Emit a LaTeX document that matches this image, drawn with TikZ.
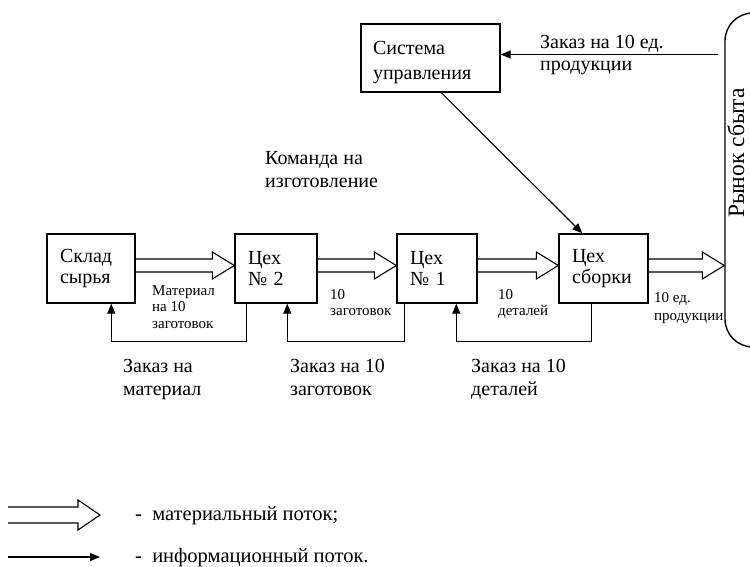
\documentclass[tikz,border=0pt]{standalone}
\usepackage{fontspec}
\setmainfont{Liberation Serif}
\usetikzlibrary{calc,arrows.meta}
\tikzset{
  box/.style={draw,line width=1.4pt,inner xsep=13pt,inner ysep=0pt,align=left,
    font=\fontsize{20}{21}\selectfont},
  info/.style={line width=1.2pt,-{Triangle[length=10pt,width=8pt]}},
  mat/.style={line width=1.1pt,line join=miter},
  lbl/.style={anchor=north west,inner sep=0pt,align=left,font=\fontsize{20}{23}\selectfont},
  small/.style={anchor=north west,inner sep=0pt,align=left,font=\fontsize{15}{16.5}\selectfont}
}
\newcommand\matflow[4]{% start, end, half shaft, half head
  \draw[mat] ($(#1)+(0,-#3)$) -- ($(#2)+(-22,-#3)$) -- ($(#2)+(-22,-#4)$) -- (#2)
    -- ($(#2)+(-22,#4)$) -- ($(#2)+(-22,#3)$) -- ($(#1)+(0,#3)$);}
\begin{document}
\begin{tikzpicture}[x=1pt,y=-1pt]
\useasboundingbox (0,0) rectangle (750,566);
% boxes
\node[box,text width=62pt,minimum height=69pt] (sklad) at (91,268.5) {Склад\\сырья};
\node[box,text width=56pt,minimum height=69pt] (ceh2) at (276,268.5) {Цех\\№ 2};
\node[box,text width=54pt,minimum height=69pt] (ceh1) at (437,268.5) {Цех\\№ 1};
\node[box,text width=63pt,minimum height=69pt] (sborka) at (603.5,268.5) {Цех\\сборки};
\node[box,inner xsep=12pt,text width=115pt,minimum height=68pt,font=\fontsize{20}{25}\selectfont] (sys) at (430.5,58) {\rule{0pt}{22pt}Система\\управления};
\node[draw,line width=1.4pt,rounded corners=28pt,minimum width=80pt,minimum height=334pt,inner sep=0pt] (rynok) at (765,180) {};
\node[rotate=90,anchor=base,inner sep=0pt,font=\fontsize{23.5}{25}\selectfont] (rynoklbl) at (744,153) {Рынок сбыта};
% material flows
\coordinate (a1) at ([yshift=3pt]sklad.east);
\coordinate (b1) at ([yshift=3pt]ceh2.west);
\coordinate (a2) at ([yshift=3pt]ceh2.east);
\coordinate (b2) at ([yshift=3pt]ceh1.west);
\coordinate (a3) at ([yshift=3pt]ceh1.east);
\coordinate (b3) at ([yshift=3pt]sborka.west);
\coordinate (a4) at ([yshift=3pt]sborka.east);
\coordinate (b4) at (rynok.west |- a4);
\matflow{a1}{b1}{6.5}{13.5}
\matflow{a2}{b2}{6.5}{13.5}
\matflow{a3}{b3}{6.5}{13.5}
\matflow{a4}{b4}{6.5}{13.5}
% info flows
\draw[info] ([xshift=12pt]ceh2.south west) -- ++(0,38) -| ([xshift=65pt]sklad.south west);
\draw[info] ([xshift=8pt]ceh1.south west) -- ++(0,38) -| ([xshift=53pt]ceh2.south west);
\draw[info] ([xshift=33pt]sborka.south west) -- ++(0,38) -| ([xshift=60pt]ceh1.south west);
\draw[info] ([xshift=81pt]sys.south west) -- ([xshift=24pt]sborka.north west);
\coordinate (order) at (718,54.5);
\draw[info] (order) -- (order -| sys.east);
% labels
\node[lbl,font=\fontsize{20}{21.7}\selectfont] (l1) at (540,35) {Заказ на 10 ед.\\продукции};
\node[lbl] (l2) at (265,151.6) {Команда на\\изготовление};
\node[small] (l3) at (152,285) {Материал\\на 10\\заготовок};
\node[small] (l4) at (330,289) {10\\заготовок};
\node[small] (l5) at (498,289) {10\\деталей};
\node[small,font=\fontsize{15}{18}\selectfont] (l6) at (654,292) {10 ед.\\продукции};
\node[lbl] (l7) at (123,358.6) {Заказ на\\материал};
\node[lbl] (l8) at (290,358.6) {Заказ на 10\\заготовок};
\node[lbl] (l9) at (471,358.6) {Заказ на 10\\деталей};
% legend
\coordinate (lm1) at (8,515);
\coordinate (lm2) at (100,515);
\matflow{lm1}{lm2}{8}{15}
\coordinate (li1) at (8,557);
\coordinate (li2) at (100,557);
\draw[info] (li1) -- (li2);
\node[anchor=base west,inner sep=0pt,font=\fontsize{20.5}{23}\selectfont] (leg1) at (135,520) {-\ \ материальный поток;};
\node[anchor=base west,inner sep=0pt,font=\fontsize{20.5}{23}\selectfont] (leg2) at (135,562) {-\ \ информационный поток.};
\end{tikzpicture}
\end{document}
